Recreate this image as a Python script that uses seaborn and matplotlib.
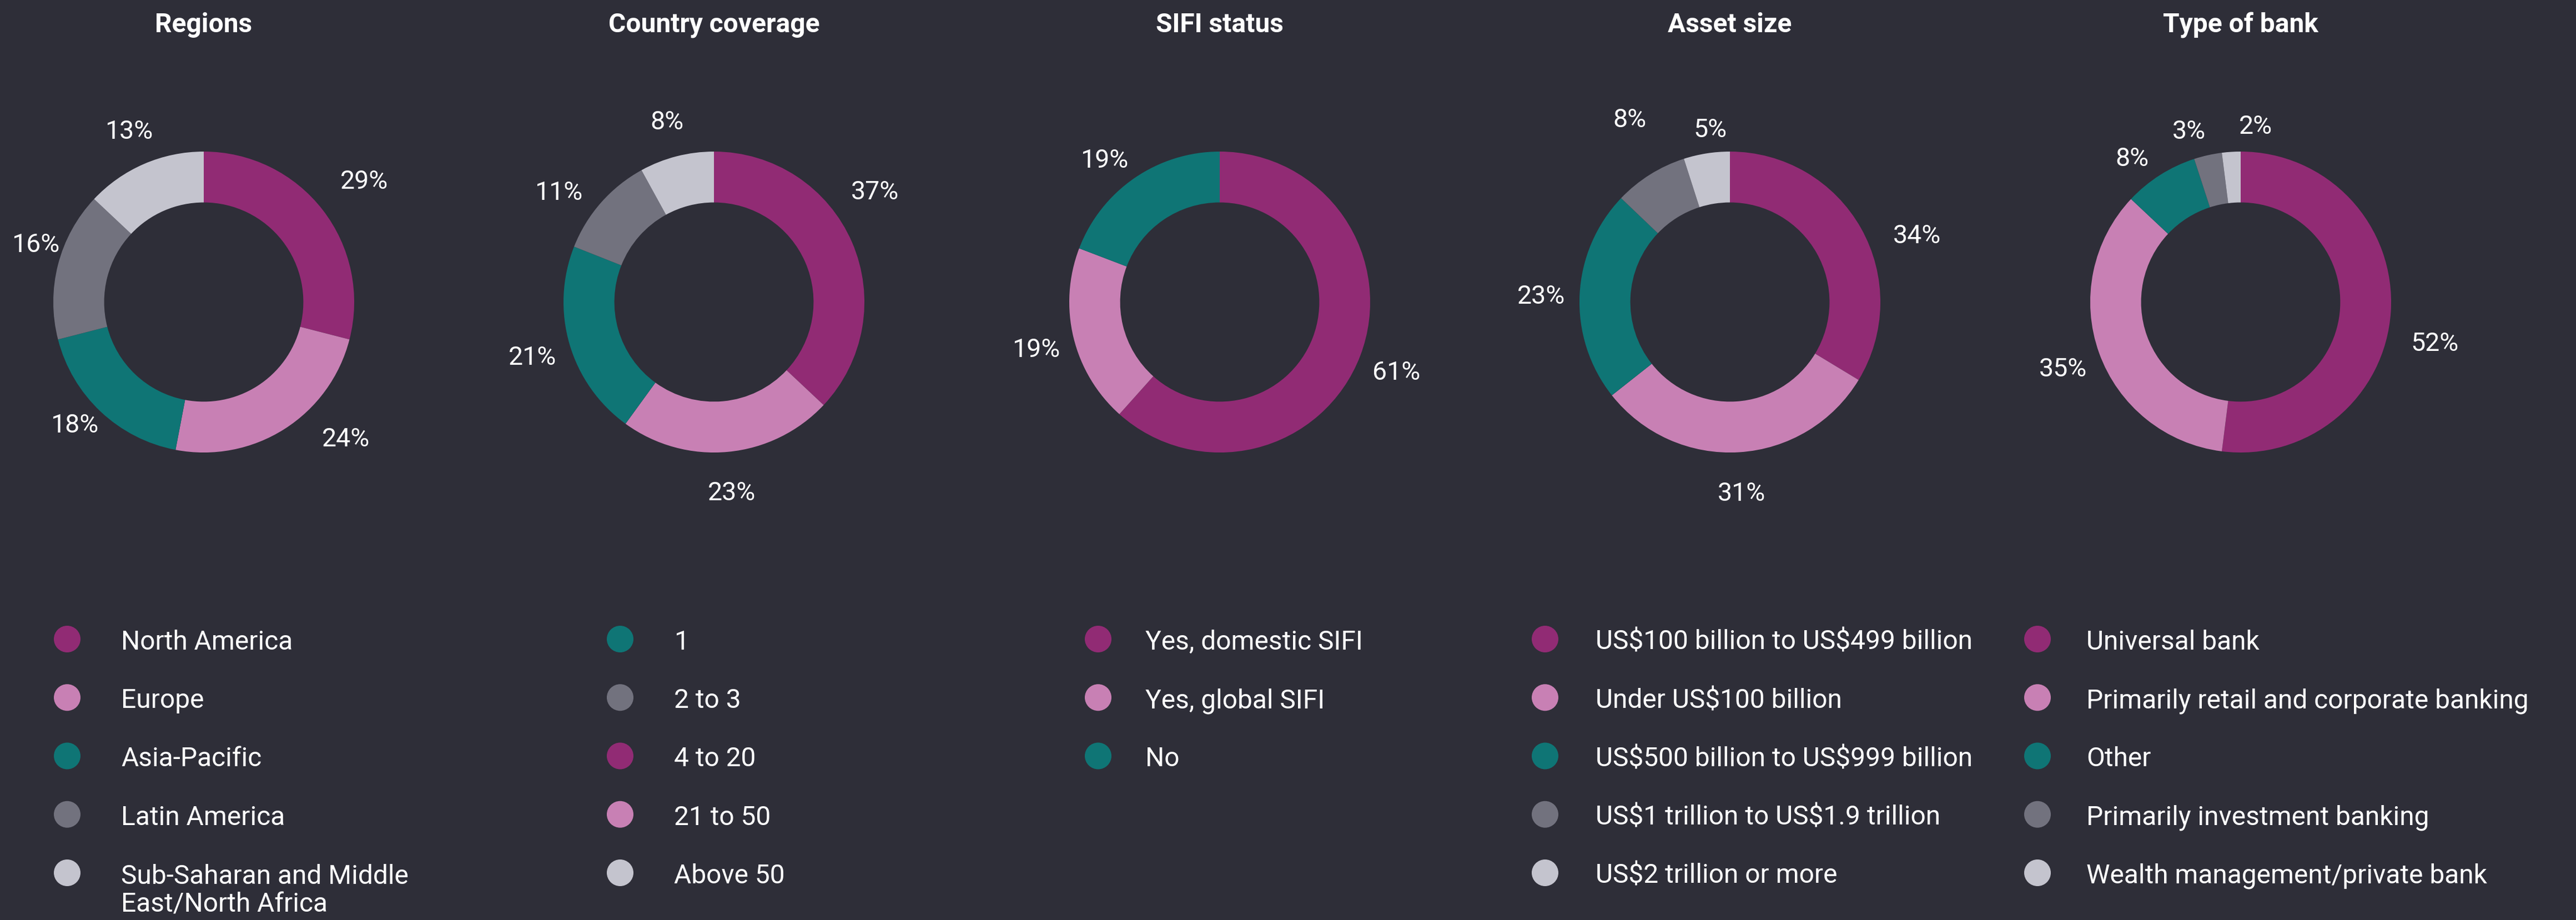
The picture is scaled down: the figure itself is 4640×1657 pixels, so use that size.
import numpy as np
import pandas as pd
import matplotlib
matplotlib.use("Agg")
import matplotlib.pyplot as plt
import seaborn as sns

# ---------------- data ----------------
titles = ["Regions", "Country coverage", "SIFI status", "Asset size", "Type of bank"]

regions_labels = ["North America", "Europe", "Asia-Pacific", "Latin America",
                  "Sub-Saharan and Middle\nEast/North Africa"]
regions_values = [29, 24, 18, 16, 13]

coverage_labels = ["4 to 20", "21 to 50", "1", "2 to 3", "Above 50"]
coverage_values = [37, 23, 21, 11, 8]
coverage_legend = ["1", "2 to 3", "4 to 20", "21 to 50", "Above 50"]

sifi_labels = ["Yes, domestic SIFI", "Yes, global SIFI", "No"]
sifi_values = [61, 19, 19]

asset_labels = ["US$100 billion to US$499 billion", "Under US$100 billion",
                "US$500 billion to US$999 billion", "US$1 trillion to US$1.9 trillion",
                "US$2 trillion or more"]
asset_values = [34, 31, 23, 8, 5]

bank_labels = ["Universal bank", "Primarily retail and corporate banking", "Other",
               "Primarily investment banking", "Wealth management/private bank"]
bank_values = [52, 35, 8, 3, 2]

# ---------------- style ----------------
BG = "#2E2E38"
TXT = "#FFFFFF"
slice_colors = ["#912B74", "#C880B4", "#0F7575", "#72727E", "#C4C4CE"]

sns.set_theme(style="dark", rc={"figure.facecolor": BG, "axes.facecolor": BG,
                                "savefig.facecolor": BG})
plt.rcParams["font.family"] = ["Roboto", "DejaVu Sans"]

LEG_FS = 34.5
PCT_FS = 33.5
TITLE_FS = 34.5

W, H = 4640, 1658
fig = plt.figure(figsize=(W / 100, H / 100), dpi=100)

charts = [
    (regions_labels, regions_values, regions_labels),
    (coverage_labels, coverage_values, coverage_legend),
    (sifi_labels, sifi_values, sifi_labels),
    (asset_labels, asset_values, asset_labels),
    (bank_labels, bank_values, bank_labels),
]

# layout (pixels)
centers_x = [367, 1286, 2197, 3116, 4036]
center_y = 545
R = 271
ring = 0.338
label_dist = 1.255
legend_dot_x = [121, 1117, 1978, 2783, 3670]
legend_txt_dx = [97, 97, 85, 91, 88]
row_top, row_step = 1152, 105.25

# per-label offsets (px right, px up)
nudges = {
    (0, 0): (20, 14), (0, 1): (74, 46), (0, 2): (0, 31), (0, 3): (27, 24),
    (1, 0): (-22, 68), (1, 3): (-25, -22),
    (2, 2): (-15, -20),
    (3, 0): (41, -42), (3, 3): (0, 45), (3, 4): (17, -21),
    (4, 0): (10, -48), (4, 2): (-13, -24), (4, 3): (-19, -19), (4, 4): (48, -18),
}

for ci, (labels, values, legend_order) in enumerate(charts):
    cx = centers_x[ci]
    colors = slice_colors[:len(values)]
    ax = fig.add_axes([(cx - R) / W, (H - center_y - R) / H, 2 * R / W, 2 * R / H])
    wedges, _ = ax.pie(values, colors=colors, startangle=90, counterclock=False,
                       radius=1, wedgeprops=dict(width=ring, linewidth=0))
    ax.set_xlim(-1, 1)
    ax.set_ylim(-1, 1)
    ax.set_aspect("equal")
    ax.axis("off")

    for si, (w, v) in enumerate(zip(wedges, values)):
        mid = np.deg2rad((w.theta1 + w.theta2) / 2)
        dx, dy = nudges.get((ci, si), (0, 0))
        ax.annotate(f"{v}%", xy=(label_dist * np.cos(mid), label_dist * np.sin(mid)),
                    xytext=(dx * 0.72, dy * 0.72), textcoords="offset points",
                    ha="center", va="center_baseline", fontsize=PCT_FS,
                    color=TXT, annotation_clip=False)

    fig.text(cx / W, 1 - 40 / H, titles[ci], ha="center", va="center_baseline",
             fontsize=TITLE_FS, fontweight="bold", color=TXT)

    # legend column
    color_of = dict(zip(labels, colors))
    lx = legend_dot_x[ci]
    n_rows = 5
    top_px = row_top - row_step / 2
    lax = fig.add_axes([(lx - 40) / W, (H - top_px - n_rows * row_step) / H,
                        900 / W, n_rows * row_step / H])
    df = pd.DataFrame({"x": np.zeros(len(legend_order)),
                       "row": np.arange(len(legend_order)),
                       "label": legend_order})
    sns.scatterplot(data=df, x="x", y="row", hue="label", palette=color_of,
                    s=48 ** 2 * 0.5184, linewidth=0, legend=False, ax=lax)
    lax.set_xlim(-40, 860)
    lax.set_ylim(n_rows - 0.5, -0.5)
    lax.axis("off")
    for ri, lab in enumerate(legend_order):
        if "\n" in lab:
            lax.annotate(lab, xy=(legend_txt_dx[ci], ri), xytext=(0, 17 * 0.72),
                         textcoords="offset points", ha="left", va="top",
                         fontsize=LEG_FS, color=TXT, linespacing=1.12,
                         parse_math=False)
        else:
            lax.text(legend_txt_dx[ci], ri, lab, ha="left", va="center_baseline",
                     fontsize=LEG_FS, color=TXT, parse_math=False)

fig.savefig("out.png", dpi=100, facecolor=BG)
